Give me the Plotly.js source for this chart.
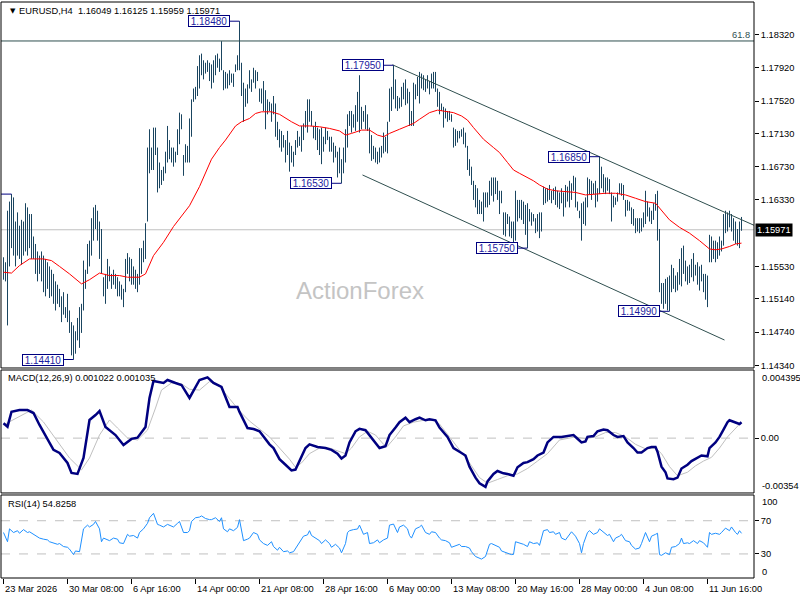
<!DOCTYPE html>
<html><head><meta charset="utf-8">
<script src="https://cdn.plot.ly/plotly-3.0.1.min.js"></script>
<style>html,body{margin:0;padding:0;background:#fff}#chart{width:800px;height:600px}</style>
</head><body><div id="chart"></div>
<script>
// ---- EURUSD H4 bars (index 0 = 23 Mar 2026 00:00) ----
const highs = [
1.1564,1.1558,1.1620,1.1631,1.1640,1.1636,1.1607,1.1618,1.1602,1.1609,
1.1607,1.1629,1.1624,1.1616,1.1616,1.1589,1.1580,1.1571,1.1566,1.1571,
1.1566,1.1562,1.1558,1.1553,1.1549,1.1544,1.1535,1.1531,1.1526,1.1517,
1.1522,1.1504,1.1520,1.1500,1.1486,1.1482,1.1475,1.1491,1.1504,1.1508,
1.1560,1.1549,1.1580,1.1584,1.1611,1.1624,1.1627,1.1620,1.1607,1.1598,
1.1540,1.1544,1.1562,1.1553,1.1544,1.1549,1.1544,1.1540,1.1535,1.1531,
1.1526,1.1562,1.1569,1.1564,1.1562,1.1553,1.1549,1.1544,1.1575,1.1575,
1.1584,1.1605,1.1696,1.1718,1.1696,1.1720,1.1720,1.1696,1.1678,1.1669,
1.1673,1.1691,1.1722,1.1705,1.1696,1.1696,1.1691,1.1718,1.1738,1.1736,
1.1687,1.1700,1.1698,
1.1731,1.1754,1.1767,1.1769,1.1794,1.1807,1.1809,1.1801,1.1798,1.1801,
1.1798,1.1796,1.1801,1.1807,1.1809,1.1803,1.1824,1.1789,1.1787,1.1785,
1.1789,1.1785,1.1785,1.1796,1.1807,1.1848,1.1798,1.1774,1.1767,1.1772,
1.1789,1.1778,1.1792,1.1789,1.1787,1.1767,1.1767,1.1776,1.1765,1.1754,
1.1751,1.1749,1.1758,1.1749,1.1727,1.1718,1.1716,1.1711,1.1705,1.1716,
1.1702,1.1698,1.1691,1.1705,1.1716,1.1709,1.1722,1.1725,1.1740,1.1754,
1.1754,1.1740,1.1722,1.1727,1.1720,1.1718,1.1720,1.1709,1.1720,1.1716,
1.1709,1.1709,1.1702,1.1698,1.1691,1.1696,1.1682,1.1696,1.1718,1.1736,
1.1740,1.1740,1.1736,1.1747,1.1763,1.1783,1.1745,1.1740,1.1747,1.1736,
1.1720,
1.1711,1.1698,1.1696,1.1691,1.1696,1.1698,1.1714,1.1709,1.1727,1.1767,
1.1769,1.1795,1.1778,1.1758,1.1756,1.1769,1.1774,1.1778,1.1767,1.1763,
1.1740,1.1774,1.1772,1.1781,1.1787,1.1785,1.1783,1.1778,1.1783,1.1776,
1.1785,1.1787,1.1787,1.1767,1.1763,1.1749,1.1745,1.1743,1.1740,1.1740,
1.1736,1.1720,1.1718,1.1716,1.1716,1.1718,1.1720,1.1714,1.1698,1.1682,
1.1673,1.1656,1.1651,1.1647,1.1633,1.1631,1.1642,1.1642,1.1642,1.1656,
1.1660,1.1660,1.1660,1.1656,1.1644,1.1644,1.1618,1.1618,1.1616,1.1613,
1.1607,1.1607,1.1644,1.1633,1.1633,1.1633,1.1631,1.1627,1.1629,1.1622,
1.1618,1.1616,1.1611,1.1616,1.1618,1.1618,1.1649,1.1647,1.1647,1.1651,
1.1644,1.1647,
1.1649,1.1644,1.1642,1.1647,1.1642,1.1651,1.1649,1.1656,1.1653,1.1662,
1.1660,1.1631,1.1620,1.1629,1.1631,1.1636,1.1660,1.1658,1.1656,1.1653,
1.1656,1.1647,1.1685,1.1673,1.1664,1.1660,1.1660,1.1658,1.1642,1.1638,
1.1636,1.1642,1.1653,1.1653,1.1651,1.1633,1.1633,1.1631,1.1624,1.1622,
1.1611,1.1611,1.1611,1.1611,1.1618,1.1644,1.1631,1.1624,1.1620,1.1629,
1.1640,1.1644,1.1598,1.1533,1.1533,1.1538,1.1540,1.1542,1.1555,1.1551,
1.1542,1.1546,1.1562,1.1575,1.1578,1.1560,1.1553,1.1555,1.1562,1.1569,
1.1555,1.1558,1.1553,1.1555,1.1544,1.1544,1.1542,1.1591,1.1589,1.1584,
1.1584,1.1582,1.1589,1.1584,1.1616,1.1620,1.1618,1.1620,1.1616,1.1611,
1.1607,1.1598,1.1607,1.16125];
const lows = [
1.1537,1.1535,1.1482,1.1553,1.1575,1.1566,1.1553,1.1566,1.1562,1.1555,
1.1566,1.1571,1.1566,1.1575,1.1562,1.1562,1.1544,1.1535,1.1544,1.1535,
1.1522,1.1517,1.1526,1.1515,1.1517,1.1508,1.1500,1.1508,1.1504,1.1486,
1.1495,1.1491,1.1486,1.1473,1.1446,1.1441,1.1448,1.1464,1.1455,1.1473,
1.1500,1.1526,1.1544,1.1553,1.1566,1.1584,1.1598,1.1584,1.1562,1.1544,
1.1517,1.1508,1.1526,1.1535,1.1526,1.1531,1.1526,1.1517,1.1517,1.1513,
1.1504,1.1522,1.1544,1.1535,1.1531,1.1531,1.1526,1.1522,1.1531,1.1544,
1.1558,1.1562,1.1607,1.1665,1.1669,1.1669,1.1687,1.1642,1.1647,1.1651,
1.1656,1.1665,1.1678,1.1682,1.1678,1.1673,1.1678,1.1687,1.1700,1.1718,
1.1662,1.1678,1.1678,
1.1678,1.1709,1.1751,1.1754,1.1758,1.1767,1.1783,1.1778,1.1785,1.1787,
1.1776,1.1767,1.1774,1.1783,1.1792,1.1787,1.1789,1.1765,1.1767,1.1767,
1.1771,1.1774,1.1769,1.1787,1.1789,1.1789,1.1758,1.1727,1.1745,1.1749,
1.1767,1.1763,1.1774,1.1767,1.1776,1.1751,1.1749,1.1740,1.1718,1.1736,
1.1740,1.1727,1.1736,1.1709,1.1705,1.1696,1.1691,1.1696,1.1678,1.1687,
1.1667,1.1678,1.1673,1.1687,1.1696,1.1698,1.1691,1.1705,1.1720,1.1714,
1.1727,1.1722,1.1707,1.1705,1.1693,1.1687,1.1676,1.1691,1.1700,1.1705,
1.1691,1.1691,1.1678,1.1684,1.1660,1.1665,1.1653,1.1665,1.1678,1.1696,
1.1722,1.1714,1.1720,1.1716,1.1727,1.1714,1.1718,1.1727,1.1718,1.1716,
1.1689,
1.1680,1.1682,1.1678,1.1676,1.1678,1.1684,1.1689,1.1691,1.1689,1.1727,
1.1740,1.1754,1.1743,1.1740,1.1743,1.1745,1.1754,1.1747,1.1749,1.1722,
1.1722,1.1722,1.1754,1.1758,1.1749,1.1767,1.1765,1.1763,1.1767,1.1760,
1.1767,1.1767,1.1763,1.1745,1.1736,1.1740,1.1720,1.1731,1.1727,1.1729,
1.1727,1.1696,1.1698,1.1702,1.1707,1.1709,1.1700,1.1696,1.1669,1.1662,
1.1651,1.1633,1.1624,1.1616,1.1616,1.1616,1.1607,1.1624,1.1624,1.1627,
1.1638,1.1631,1.1640,1.1633,1.1616,1.1629,1.1591,1.1589,1.1604,1.1589,
1.1587,1.1582,1.1584,1.1607,1.1611,1.1609,1.1604,1.1591,1.1575,1.1607,
1.1602,1.1607,1.1593,1.1595,1.1587,1.1595,1.1627,1.1629,1.1631,1.1633,
1.1629,1.1633,
1.1627,1.1624,1.1622,1.1629,1.1613,1.1624,1.1631,1.1624,1.1633,1.1644,
1.1624,1.1620,1.1611,1.1584,1.1604,1.1602,1.1624,1.1640,1.1633,1.1640,
1.1624,1.1631,1.1640,1.1647,1.1642,1.1640,1.1644,1.1640,1.1607,1.1624,
1.1627,1.1631,1.1640,1.1638,1.1633,1.1613,1.1620,1.1620,1.1604,1.1602,
1.1593,1.1595,1.1593,1.1595,1.1600,1.1604,1.1613,1.1607,1.1604,1.1609,
1.1620,1.1584,1.1522,1.1508,1.1502,1.1508,1.1500,1.1499,1.1522,1.1526,
1.1522,1.1524,1.1531,1.1529,1.1544,1.1535,1.1531,1.1533,1.1540,1.1535,
1.1542,1.1531,1.1524,1.1535,1.1522,1.1513,1.1504,1.1558,1.1558,1.1562,
1.1558,1.1562,1.1566,1.1571,1.1578,1.1593,1.1595,1.1600,1.1595,1.1584,
1.1580,1.1578,1.1575,1.15959];

// ---- moving average (red) ----
const maIdx = [0,4,8,13,20,24,28,33,39,43,48,53,58,62,68,71,75,80,85,89,93,98,101,104,108,111,116,119,123,126,129,134,138,141,144,148,153,158,163,168,171,174,179,183,187,190,193,198,202,205,208,213,217,220,225,229,232,235,240,245,248,252,255,258,262,265,268,272,276,281,286,291,296,301,306,311,316,321,326,329,333,338,343,348,353,356,359,363,366,369];
const maVal = [1.1546,1.1545,1.1554,1.1562,1.1562,1.1560,1.1553,1.1544,1.1532,1.1537,1.1545,1.1542,1.1542,1.1540,1.1540,1.1544,1.1566,1.1582,1.1601,1.1613,1.1626,1.1649,1.1665,1.1682,1.1696,1.1705,1.1722,1.1727,1.1731,1.1737,1.1739,1.1739,1.1736,1.1731,1.1727,1.1722,1.1722,1.1721,1.1719,1.1716,1.1711,1.1713,1.1717,1.1717,1.1711,1.1709,1.1713,1.1718,1.1722,1.1725,1.1730,1.1738,1.1741,1.1740,1.1738,1.1734,1.1729,1.1720,1.1706,1.1696,1.1690,1.1678,1.1669,1.1665,1.1660,1.1656,1.1651,1.1646,1.1644,1.1643,1.1642,1.1639,1.1640,1.1641,1.1641,1.1639,1.1635,1.1631,1.1629,1.1620,1.1609,1.1600,1.1593,1.1584,1.1574,1.1573,1.1574,1.1577,1.1580,1.1581];

// ---- MACD(12,26,9) ----
const macdIdx = [0,2,4,8,12,15,18,22,25,28,32,34,37,40,43,46,48,51,56,60,64,67,71,73,75,80,82,86,89,93,98,102,105,109,113,117,118,122,125,128,130,133,135,138,141,144,146,148,151,153,157,161,164,167,169,171,173,176,178,181,183,186,188,191,193,196,198,201,203,206,208,211,213,216,218,222,225,228,231,233,236,238,241,242,245,247,250,252,255,257,260,262,265,267,270,272,275,279,282,285,287,289,291,292,295,297,300,302,305,307,310,312,315,317,319,322,324,326,327,329,331,332,335,337,339,342,344,347,349,352,353,356,358,360,362,363,366,368,369];
const macdVal = [0.00096,0.00074,0.00170,0.00181,0.00181,0.00162,0.00085,-0.00012,-0.00076,-0.00096,-0.00160,-0.00225,-0.00231,-0.00128,0.00117,0.00149,0.00175,0.00072,0.00020,-0.00044,-0.00005,0.00003,0.00072,0.00259,0.00369,0.00356,0.00375,0.00356,0.00343,0.00259,0.00375,0.00392,0.00356,0.00330,0.00201,0.00201,0.00169,0.00065,0.00059,0.00044,0.00008,-0.00040,-0.00064,-0.00136,-0.00172,-0.00208,-0.00203,-0.00150,-0.00064,-0.00040,-0.00057,-0.00064,-0.00076,-0.00100,-0.00131,-0.00112,-0.00028,0.00044,0.00060,0.00051,0.00020,-0.00028,-0.00064,-0.00052,0.00020,0.00068,0.00103,0.00132,0.00103,0.00122,0.00132,0.00115,0.00122,0.00115,0.00068,0.00008,-0.00064,-0.00088,-0.00112,-0.00184,-0.00255,-0.00291,-0.00315,-0.00279,-0.00231,-0.00212,-0.00227,-0.00231,-0.00243,-0.00188,-0.00160,-0.00155,-0.00136,-0.00112,-0.00093,-0.00028,0.00008,0.00008,0.00013,0.00020,-0.00004,-0.00028,-0.00021,0.00008,0.00013,0.00044,0.00056,0.00051,0.00020,0.00008,0.00013,-0.00028,-0.00064,-0.00093,-0.00093,-0.00064,-0.00057,-0.00057,-0.00088,-0.00184,-0.00220,-0.00260,-0.00265,-0.00255,-0.00196,-0.00172,-0.00148,-0.00124,-0.00112,-0.00117,-0.00064,-0.00028,0.00008,0.00055,0.00103,0.00115,0.00103,0.00091,0.001022];
const sigIdx = [0,9,14,20,27,33,39,43,48,53,57,62,67,72,76,79,84,89,93,98,103,108,113,118,123,128,133,138,143,146,149,153,158,163,168,171,174,178,182,186,190,192,196,200,205,210,215,218,223,228,233,238,242,247,252,257,262,267,272,278,281,286,291,296,301,306,311,316,321,326,329,333,337,342,346,350,354,358,362,367,369];
const sigVal = [0.00085,0.00149,0.00181,0.00104,-0.00025,-0.00128,-0.00205,-0.00128,0.00020,0.00117,0.00065,0.00001,-0.00012,0.00052,0.00194,0.00310,0.00356,0.00350,0.00315,0.00310,0.00365,0.00335,0.00255,0.00175,0.00110,0.00060,0.00008,-0.00064,-0.00136,-0.00188,-0.00160,-0.00100,-0.00064,-0.00064,-0.00088,-0.00100,-0.00064,0.00008,0.00044,0.00020,-0.00040,-0.00052,0.00008,0.00079,0.00103,0.00115,0.00115,0.00091,0.00008,-0.00076,-0.00160,-0.00255,-0.00291,-0.00267,-0.00243,-0.00231,-0.00196,-0.00148,-0.00100,-0.00012,-0.00004,0.00008,-0.00004,0.00008,0.00036,0.00036,0.00008,-0.00040,-0.00069,-0.00064,-0.00100,-0.00184,-0.00243,-0.00220,-0.00179,-0.00148,-0.00124,-0.00064,0.00008,0.00079,0.001035];

// ---- RSI(14) ----
const rsiIdx = [0,2,3,5,7,8,10,12,13,15,17,18,20,22,23,25,27,28,30,32,33,35,36,38,39,40,42,43,45,46,48,49,50,52,53,55,57,58,60,62,63,65,67,68,70,72,73,75,77,78,80,82,83,85,87,88,90,92,93,94,96,98,99,101,103,104,106,108,109,110,112,113,115,117,118,119,120,122,123,125,127,128,130,132,134,135,137,138,140,142,143,145,147,149,150,152,153,154,156,158,159,161,163,164,166,168,169,171,172,173,175,177,178,180,182,183,185,187,188,190,192,193,195,197,198,200,202,203,204,206,208,209,211,213,214,216,218,219,221,223,224,226,228,229,231,233,234,236,238,239,241,243,244,246,248,249,251,253,254,255,256,258,260,262,263,265,267,268,270,272,273,275,276,278,279,281,283,284,286,288,289,290,292,293,295,297,298,300,302,303,305,306,308,309,311,313,314,316,318,319,321,323,324,326,327,328,329,331,333,334,336,338,339,340,342,343,345,347,348,350,352,353,354,356,358,359,361,363,364,366,367,368,369];
const rsiVal = [55.8,44.7,60.2,55.8,58.0,54.9,59.3,55.8,56.7,53.6,51.4,49.1,47.8,46.9,44.7,43.4,41.6,42.5,38.9,38.0,35.8,29.2,33.6,32.7,46.9,60.2,64.7,62.5,65.6,69.1,60.2,44.7,49.1,46.9,46.0,49.1,47.8,43.4,42.5,53.6,51.4,52.2,49.1,55.8,60.2,66.9,73.6,78.9,65.6,64.7,62.5,65.6,64.7,62.5,66.9,69.1,55.8,55.8,58.0,69.1,73.6,74.4,75.8,72.7,71.3,71.3,73.6,69.1,73.6,60.2,56.7,60.2,58.0,62.0,71.3,55.8,46.0,47.8,49.1,55.8,53.6,46.9,42.5,40.3,44.7,38.9,34.5,38.0,32.7,33.6,31.4,32.7,40.3,49.1,51.4,53.0,58.0,52.2,49.1,46.0,42.5,46.9,42.5,38.0,41.6,37.1,31.4,42.5,55.8,58.0,59.3,60.0,64.7,53.6,55.8,42.5,43.5,46.9,43.4,46.9,49.1,64.7,66.0,55.8,62.5,64.7,60.2,52.2,49.1,60.2,62.5,64.7,55.8,53.6,56.7,55.8,49.1,46.9,46.0,43.4,38.0,40.3,41.6,38.9,38.9,37.1,32.7,26.9,24.7,23.8,26.9,41.6,42.5,40.3,38.0,33.6,31.4,30.0,29.2,29.5,44.7,43.4,41.6,38.9,44.7,42.5,43.4,40.3,58.0,59.3,55.8,56.7,53.6,55.8,49.1,46.9,53.6,56.7,51.4,42.5,31.4,42.5,55.8,58.0,53.6,55.8,60.2,55.8,52.2,53.6,44.7,49.1,51.4,53.6,46.0,44.7,40.3,35.8,37.1,42.5,55.8,44.7,51.4,53.6,54.9,29.2,28.3,31.4,29.2,38.0,38.9,42.5,49.1,42.5,43.4,42.5,46.0,42.5,46.0,43.4,38.0,55.8,53.6,54.9,53.6,55.8,61.1,58.0,62.5,55.8,53.6,58.0,54.83];

// ---- axes / labels ----
const priceTicks = [1.18320,1.17920,1.17520,1.17130,1.16730,1.16330,1.15530,1.15140,1.14740,1.14340];
const timeLabelIdx = [0,32,64,96,128,160,192,224,256,288,320,352];
const timeLabels = ['23 Mar 2026','30 Mar 08:00','6 Apr 16:00','14 Apr 00:00','21 Apr 08:00','28 Apr 16:00','6 May 00:00','13 May 08:00','20 May 16:00','28 May 00:00','4 Jun 08:00','11 Jun 16:00'];
const tagIdx = [35,118,169,195,262,298,333];
const tagVal = [1.14410,1.18480,1.16530,1.17950,1.15750,1.16850,1.14990];
const fibLevel = 1.18242, fibText = '61.8';
const lastBar = {o:1.16049,h:1.16125,l:1.15959,c:1.15971};
const lastMacd = 0.001022, lastSignal = 0.001035, lastRsi = 54.8258;
const upperChannel = [[195,1.1795],[298,1.1685]];
const lowerChannel = [[179.5,1.1663],[360,1.1465]];
const prevHighStub = [4,1.1640];

// ---- geometry helpers (pixel -> paper) ----
const XR = [-1.25, 375.25];
const px = x => (x-1)/753;
const py = y => (578-y)/576;
const FONT = 'Liberation Sans, Arial, sans-serif';
const fs = 9.3;

// bars
const bx=[], by=[];
for (let i=0;i<highs.length;i++){ bx.push(i,i,null); by.push(lows[i],highs[i],null); }

const traces = [
 {type:'scatter',mode:'lines',x:bx,y:by,xaxis:'x',yaxis:'y',line:{color:'#1a4560',width:1},hoverinfo:'skip'},
 {type:'scatter',mode:'lines',x:maIdx,y:maVal,xaxis:'x',yaxis:'y',line:{color:'#ff0000',width:1},hoverinfo:'skip'},
 {type:'scatter',mode:'lines',x:sigIdx,y:sigVal,xaxis:'x',yaxis:'y2',line:{color:'#c0c0c0',width:1},hoverinfo:'skip'},
 {type:'scatter',mode:'lines',x:macdIdx,y:macdVal,xaxis:'x',yaxis:'y2',line:{color:'#000080',width:2.5},hoverinfo:'skip'},
 {type:'scatter',mode:'lines',x:rsiIdx,y:rsiVal,xaxis:'x',yaxis:'y3',line:{color:'#1e90ff',width:1},hoverinfo:'skip'}
];

const shapes = [];
shapes.push({type:'line',layer:'below',xref:'paper',x0:0,x1:1,yref:'y',y0:lastBar.c,y1:lastBar.c,line:{color:'#c0c0c0',width:1}});
shapes.push({type:'line',xref:'paper',x0:0,x1:1,yref:'y',y0:fibLevel,y1:fibLevel,line:{color:'#2f4f4f',width:1}});
shapes.push({type:'line',layer:'below',xref:'paper',x0:0,x1:1,yref:'y2',y0:0,y1:0,line:{color:'#c0c0c0',width:1,dash:'dash'}});
[70,30].forEach(v=>shapes.push({type:'line',layer:'below',xref:'paper',x0:0,x1:1,yref:'y3',y0:v,y1:v,line:{color:'#c0c0c0',width:1,dash:'dash'}}));
function chan(p, xEndLeft, xEndRight){
  const s=(p[1][1]-p[0][1])/(p[1][0]-p[0][0]);
  return {type:'line',xref:'x',yref:'y',x0:xEndLeft,y0:p[0][1]+s*(xEndLeft-p[0][0]),x1:xEndRight,y1:p[0][1]+s*(xEndRight-p[0][0]),line:{color:'#2f4f4f',width:1}};
}
shapes.push(chan(upperChannel,194.5,XR[1]));
shapes.push(chan(lowerChannel,179.5,360.5));
tagIdx.forEach((ix,k)=>shapes.push({type:'line',xref:'x',yref:'y',x0:ix-5,x1:ix,y0:tagVal[k],y1:tagVal[k],line:{color:'#000080',width:1}}));
shapes.push({type:'line',xref:'x',yref:'y',x0:XR[0],x1:prevHighStub[0],y0:prevHighStub[1],y1:prevHighStub[1],line:{color:'#000080',width:1}});
['y domain','y2 domain','y3 domain'].forEach(r=>shapes.push({type:'rect',xref:'paper',x0:0,x1:1,yref:r,y0:0,y1:1,line:{color:'#000',width:1}}));

const ann = [];
const txt = (text,x,y,o={}) => ann.push(Object.assign({text,xref:'paper',yref:'paper',x,y,xanchor:'left',yanchor:'middle',showarrow:false,font:{family:FONT,size:fs,color:'#000'}},o));
txt('\u25BC',px(8),py(11),{font:{family:'DejaVu Sans',size:7,color:'#000'}});
txt('EURUSD,H4  '+[lastBar.o,lastBar.h,lastBar.l,lastBar.c].map(v=>v.toFixed(5)).join(' '),px(17),py(11));
txt('ActionForex',px(360),py(290),{xanchor:'center',font:{family:FONT,size:24,color:'#c4c4c4'}});
txt('MACD(12,26,9) '+lastMacd.toFixed(6)+' '+lastSignal.toFixed(6),px(6),py(378));
txt('RSI(14) '+lastRsi.toFixed(4),px(6),py(504));
txt(fibText,px(752),py(35),{xanchor:'right',font:{family:FONT,size:fs,color:'#2f4f4f'}});
txt('0.004395',px(760),py(378));
txt('-0.00354',px(760),py(486));
txt('100',px(760),py(502));
txt('0',px(760),py(572));
tagIdx.forEach((ix,k)=>ann.push({text:tagVal[k].toFixed(5),xref:'x',yref:'y',x:ix-5,y:tagVal[k],xanchor:'right',yanchor:'middle',showarrow:false,
  width:40,height:10,valign:'middle',align:'center',
  bgcolor:'#ffffff',bordercolor:'#000080',borderwidth:1,borderpad:0,font:{family:FONT,size:10,color:'#1c1ca0'}}));
ann.push({text:lastBar.c.toFixed(5),xref:'paper',yref:'y',x:px(755),y:lastBar.c,xanchor:'left',yanchor:'middle',showarrow:false,bgcolor:'#000',borderpad:1,height:10,font:{family:FONT,size:fs,color:'#fff'}});
timeLabelIdx.forEach((ix,k)=>ann.push({text:timeLabels[k],xref:'x',yref:'paper',x:ix,y:py(588.5),xanchor:'left',yanchor:'middle',xshift:-1,showarrow:false,font:{family:FONT,size:fs,color:'#000'}}));

const yCommon = {side:'right',anchor:'x',showgrid:false,zeroline:false,showline:false,ticks:'outside',ticklen:4,tickcolor:'#000',tickfont:{family:FONT,size:fs,color:'#000'},fixedrange:true};
const layout = {
  width:800,height:600,margin:{l:1,r:46,t:2,b:22,pad:0},
  paper_bgcolor:'#fff',plot_bgcolor:'#fff',showlegend:false,
  xaxis:{domain:[0,1],range:XR,anchor:'y3',showgrid:false,zeroline:false,showline:false,ticks:'outside',ticklen:5,tickcolor:'#000',tickvals:timeLabelIdx,showticklabels:false,fixedrange:true},
  yaxis:Object.assign({},yCommon,{domain:[0.3646,1],range:[1.14308,1.18711],tickvals:priceTicks,ticktext:priceTicks.map(v=>v.toFixed(5))}),
  yaxis2:Object.assign({},yCommon,{domain:[0.1476,0.3611],range:[-0.00354,0.004395],tickvals:[0],ticktext:['0.00']}),
  yaxis3:Object.assign({},yCommon,{domain:[0,0.1441],range:[1,101],tickvals:[70,30],ticktext:['70','30']}),
  shapes, annotations:ann
};
Plotly.newPlot('chart',traces,layout,{staticPlot:true,displayModeBar:false});
</script></body></html>
